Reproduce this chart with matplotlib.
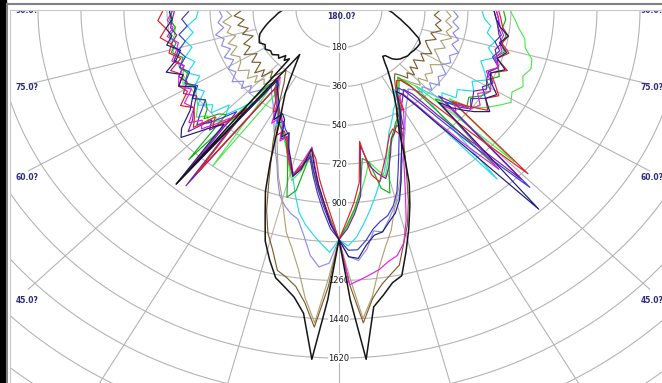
import numpy as np
import matplotlib.pyplot as plt
from matplotlib.lines import Line2D
from matplotlib.patches import Rectangle

# gamma angles (deg) measured from nadir, one side
gamma_steps = [0, 2, 4, 6, 8, 10, 12, 14, 16, 18,
               20, 22, 24, 26, 28, 30, 32, 34, 36, 38,
               40, 42, 44, 46, 48, 50, 53, 56, 59, 62,
               65, 68, 71, 74, 77, 80, 83, 86, 89, 92,
               95]

# candela values per half-plane, same order as gamma_steps
black_left = [1070, 1350, 1630, 1420, 1350, 1310, 1275, 1200, 1120, 1000,
              900, 770, 650, 560, 500, 450, 390, 340, 300, 267,
              1060, 310, 330, 310, 340, 330, 350, 345, 360, 350,
              368, 360, 350, 330, 310, 290, 270, 255, 236, 225,
              215]
black_right = [1070, 1350, 1630, 1390, 1340, 1290, 1265, 1160, 1060, 960,
               860, 730, 620, 560, 510, 460, 420, 380, 345, 310,
               285, 290, 320, 335, 345, 350, 360, 362, 368, 372,
               375, 360, 330, 305, 280, 260, 240, 225, 205, 198,
               190]
brown_left = [1070, 1290, 1480, 1370, 1300, 1265, 1240, 1150, 1080, 980,
              860, 760, 680, 600, 540, 500, 450, 410, 385, 360,
              390, 430, 400, 450, 420, 460, 410, 440, 400, 450,
              410, 430, 380, 420, 390, 430, 400, 440, 410, 400,
              390]
brown_right = [1070, 1280, 1460, 1350, 1290, 1250, 1215, 1120, 1040, 940,
               830, 740, 660, 590, 530, 490, 450, 420, 395, 380,
               400, 430, 410, 440, 400, 430, 390, 430, 400, 440,
               410, 390, 430, 400, 440, 410, 430, 400, 420, 410,
               400]
tan_left = [1070, 1250, 1460, 1350, 1220, 1130, 1060, 960, 880, 820,
            750, 690, 640, 590, 550, 510, 480, 450, 420, 400,
            430, 470, 450, 490, 460, 500, 470, 510, 480, 470,
            500, 460, 490, 450, 480, 460, 490, 450, 470, 460,
            440]
tan_right = [1070, 1240, 1440, 1340, 1210, 1120, 1050, 960, 890, 830,
             760, 700, 640, 590, 550, 510, 480, 450, 430, 410,
             430, 460, 490, 460, 500, 470, 490, 460, 500, 470,
             440, 480, 450, 490, 460, 480, 450, 470, 450, 440,
             430]
lav_left = [1070, 1180, 1200, 1150, 1060, 990, 970, 940, 900, 830,
            760, 710, 660, 620, 580, 550, 520, 500, 480, 460,
            480, 510, 540, 510, 550, 520, 560, 520, 540, 500,
            530, 490, 520, 500, 530, 490, 510, 490, 500, 480,
            470]
lav_right = [1070, 1150, 1170, 1120, 1040, 1050, 1000, 950, 910, 840,
             770, 720, 670, 630, 590, 560, 530, 510, 490, 470,
             490, 520, 500, 540, 510, 550, 520, 540, 500, 530,
             510, 540, 500, 520, 490, 510, 480, 500, 480, 470,
             460]
cyan_left = [1070, 1130, 1090, 1050, 1010, 960, 880, 800, 740, 700,
             650, 620, 580, 600, 540, 520, 500, 470, 450, 1000,
             560, 620, 680, 640, 720, 690, 740, 680, 710, 660,
             700, 650, 680, 640, 660, 620, 640, 600, 590, 580,
             570]
cyan_right = [1070, 1100, 1060, 1000, 940, 880, 820, 780, 720, 660,
              610, 580, 550, 520, 500, 470, 440, 480, 560, 700,
              1030, 480, 540, 600, 580, 640, 620, 680, 650, 700,
              670, 640, 690, 650, 670, 630, 640, 610, 600, 590,
              580]
navy_left = [1070, 1000, 900, 820, 740, 660, 760, 800, 730, 680,
             610, 640, 560, 540, 580, 500, 480, 460, 440, 420,
             1060, 720, 760, 820, 890, 860, 780, 740, 700, 760,
             720, 780, 720, 690, 740, 710, 730, 700, 710, 690,
             680]
navy_right = [1070, 1150, 1160, 1100, 1060, 1050, 1010, 975, 920, 840,
              760, 700, 640, 590, 550, 500, 450, 480, 560, 690,
              880, 1250, 600, 660, 700, 740, 790, 740, 770, 720,
              700, 750, 700, 730, 690, 720, 680, 660, 650, 640,
              620]
blue_left = [1070, 1020, 940, 860, 780, 700, 740, 790, 740, 690,
             620, 600, 570, 590, 530, 510, 480, 460, 430, 410,
             990, 640, 700, 760, 800, 760, 700, 740, 690, 730,
             690, 720, 680, 700, 660, 680, 640, 660, 630, 620,
             610]
blue_right = [1070, 1120, 1120, 1080, 1030, 1000, 980, 940, 880, 800,
              730, 670, 620, 580, 540, 500, 460, 440, 470, 560,
              700, 900, 1150, 620, 680, 720, 690, 740, 700, 730,
              690, 720, 680, 700, 670, 690, 670, 660, 650, 640,
              630]
mag_left = [1070, 990, 900, 820, 730, 650, 720, 790, 740, 680,
            630, 660, 580, 560, 600, 520, 500, 470, 450, 400,
            1010, 680, 740, 800, 770, 820, 760, 780, 720, 760,
            740, 700, 740, 710, 690, 730, 700, 720, 700, 690,
            690]
mag_right = [1070, 1280, 1260, 1240, 1220, 1190, 1170, 1120, 1020, 900,
             800, 720, 660, 620, 580, 540, 480, 470, 540, 660,
             820, 1000, 620, 680, 650, 720, 740, 700, 740, 720,
             680, 720, 690, 710, 690, 700, 680, 670, 660, 650,
             650]
red_left = [1070, 960, 870, 790, 700, 660, 740, 800, 750, 700,
            640, 610, 640, 560, 530, 550, 500, 470, 440, 960,
            600, 700, 760, 720, 820, 790, 760, 800, 740, 760,
            720, 760, 700, 740, 720, 760, 730, 760, 740, 730,
            720]
red_right = [1070, 980, 900, 810, 620, 780, 820, 760, 710, 660,
             620, 600, 640, 550, 520, 540, 450, 430, 410, 420,
             470, 600, 800, 1100, 640, 700, 780, 740, 780, 740,
             700, 760, 700, 740, 700, 720, 690, 680, 670, 660,
             660]
green_left = [1070, 980, 900, 830, 760, 680, 860, 900, 780, 700,
              650, 620, 600, 580, 540, 520, 500, 480, 460, 420,
              460, 940, 680, 700, 760, 720, 700, 740, 700, 730,
              700, 720, 690, 730, 700, 720, 690, 710, 700, 690,
              680]
green_right = [1070, 1000, 930, 850, 700, 720, 850, 880, 760, 690,
               640, 610, 580, 560, 540, 500, 460, 440, 420, 400,
               460, 1000, 580, 620, 660, 700, 680, 720, 740, 700,
               740, 720, 690, 720, 700, 710, 690, 700, 690, 690,
               680]
lime_left = [1070, 990, 910, 840, 770, 700, 770, 820, 760, 700,
             660, 630, 600, 570, 540, 520, 490, 470, 900, 480,
             660, 700, 720, 760, 740, 780, 740, 720, 700, 740,
             720, 700, 730, 700, 720, 700, 690, 710, 700, 690,
             690]
lime_right = [1070, 1010, 940, 860, 790, 720, 760, 800, 740, 680,
              650, 620, 590, 560, 530, 500, 470, 450, 430, 410,
              440, 480, 620, 1020, 620, 700, 760, 800, 840, 820,
              850, 830, 850, 840, 800, 790, 760, 740, 720, 710,
              700]
purple_left = [1070, 1000, 920, 840, 760, 690, 750, 790, 740, 690,
               630, 650, 580, 550, 580, 520, 500, 470, 450, 1040,
               620, 700, 780, 740, 850, 800, 760, 720, 760, 720,
               740, 700, 730, 700, 720, 690, 710, 700, 690, 680,
               680]
purple_right = [1070, 1020, 950, 870, 640, 740, 780, 810, 760, 700,
                640, 620, 590, 620, 550, 520, 500, 480, 460, 500,
                640, 820, 1100, 580, 660, 720, 700, 680, 720, 700,
                690, 720, 700, 680, 700, 680, 670, 670, 660, 650,
                650]

rings = [180, 360, 540, 720, 900, 1080, 1260, 1440, 1620, 1800, 1980, 2160, 2340, 2520]
ring_labels = [180, 360, 540, 720, 900, 1260, 1440, 1620]
spoke_angles = [15, 30, 45, 60, 75, 90]
label_angles = [90, 75, 60, 45]

curves = [
    (lav_left, lav_right, '#8c8cf0'),
    (tan_left, tan_right, '#b4a276'),
    (brown_left, brown_right, '#7d5e30'),
    (cyan_left, cyan_right, '#22dde6'),
    (lime_left, lime_right, '#4ee84e'),
    (green_left, green_right, '#10b010'),
    (blue_left, blue_right, '#3a3ad6'),
    (purple_left, purple_right, '#7a1fa0'),
    (mag_left, mag_right, '#e41ee4'),
    (red_left, red_right, '#e42020'),
    (navy_left, navy_right, '#1c1c78'),
    (black_left, black_right, '#151515'),
]

W, H = 662, 383
fig = plt.figure(figsize=(W / 100, H / 100), dpi=100)
fig.patch.set_facecolor('white')
ax = fig.add_axes([10 / W, 0, 652 / W, 373 / H])
ax.set_xlim(-1377, 1352)
ax.set_ylim(-1736, -3.5)
ax.axis('off')

grid_kw = dict(color='#b4b4b4', lw=0.8, zorder=1)
t = np.linspace(0, 2 * np.pi, 600)
for r in rings:
    ax.plot(r * np.sin(t), r * np.cos(t), **grid_kw)
ax.plot([0, 0], [200, -3000], **grid_kw)
for a in spoke_angles:
    ar = np.radians(a)
    r_end = 1300 / np.sin(ar)
    for s in (-1, 1):
        ax.plot([s * 360 * np.sin(ar), s * r_end * np.sin(ar)],
                [-360 * np.cos(ar), -r_end * np.cos(ar)], **grid_kw)

for r in ring_labels:
    ax.text(0, -r, str(r), ha='center', va='center', fontsize=6, color='#1a1a1a', zorder=2,
            bbox=dict(facecolor='white', edgecolor='none', pad=0.6))

lab_kw = dict(fontsize=5.5, fontweight='bold', color='#2b2b80', va='center', zorder=2,
              clip_on=True)
for a in label_angles:
    yy = -1352 / np.tan(np.radians(a)) if a < 90 else -4
    ax.text(-1352, yy, f"{a:.1f}?", ha='left', **lab_kw)
    ax.text(1264, yy, f"{a:.1f}?", ha='left', **lab_kw)
ax.text(8, -34, "180.0?", ha='center', **lab_kw)

g = np.radians([-m for m in gamma_steps[::-1]] + gamma_steps[1:])
for left, right, col in curves:
    cd = np.array(left[::-1] + right[1:])
    lw = 1.1 if col == '#151515' else 0.85
    ax.plot(cd * np.sin(g), -cd * np.cos(g), color=col, lw=lw, zorder=3)

# window frame
fig.add_artist(Rectangle((0, 0), 6 / W, 1, transform=fig.transFigure, color='black'))
fig.add_artist(Line2D([7 / W, 7 / W], [0, 1 - 4 / H], transform=fig.transFigure,
                      color='#808080', lw=1.5))
fig.add_artist(Line2D([7 / W, 1], [1 - 4 / H, 1 - 4 / H], transform=fig.transFigure,
                      color='#808080', lw=1.5))
fig.add_artist(Line2D([10 / W, 10 / W], [0, 1 - 9.5 / H], transform=fig.transFigure,
                      color='#c8c8c8', lw=0.8))
fig.add_artist(Line2D([10 / W, 1], [1 - 9.5 / H, 1 - 9.5 / H], transform=fig.transFigure,
                      color='#c8c8c8', lw=0.8))

fig.savefig('out.png', dpi=100, facecolor='white')
